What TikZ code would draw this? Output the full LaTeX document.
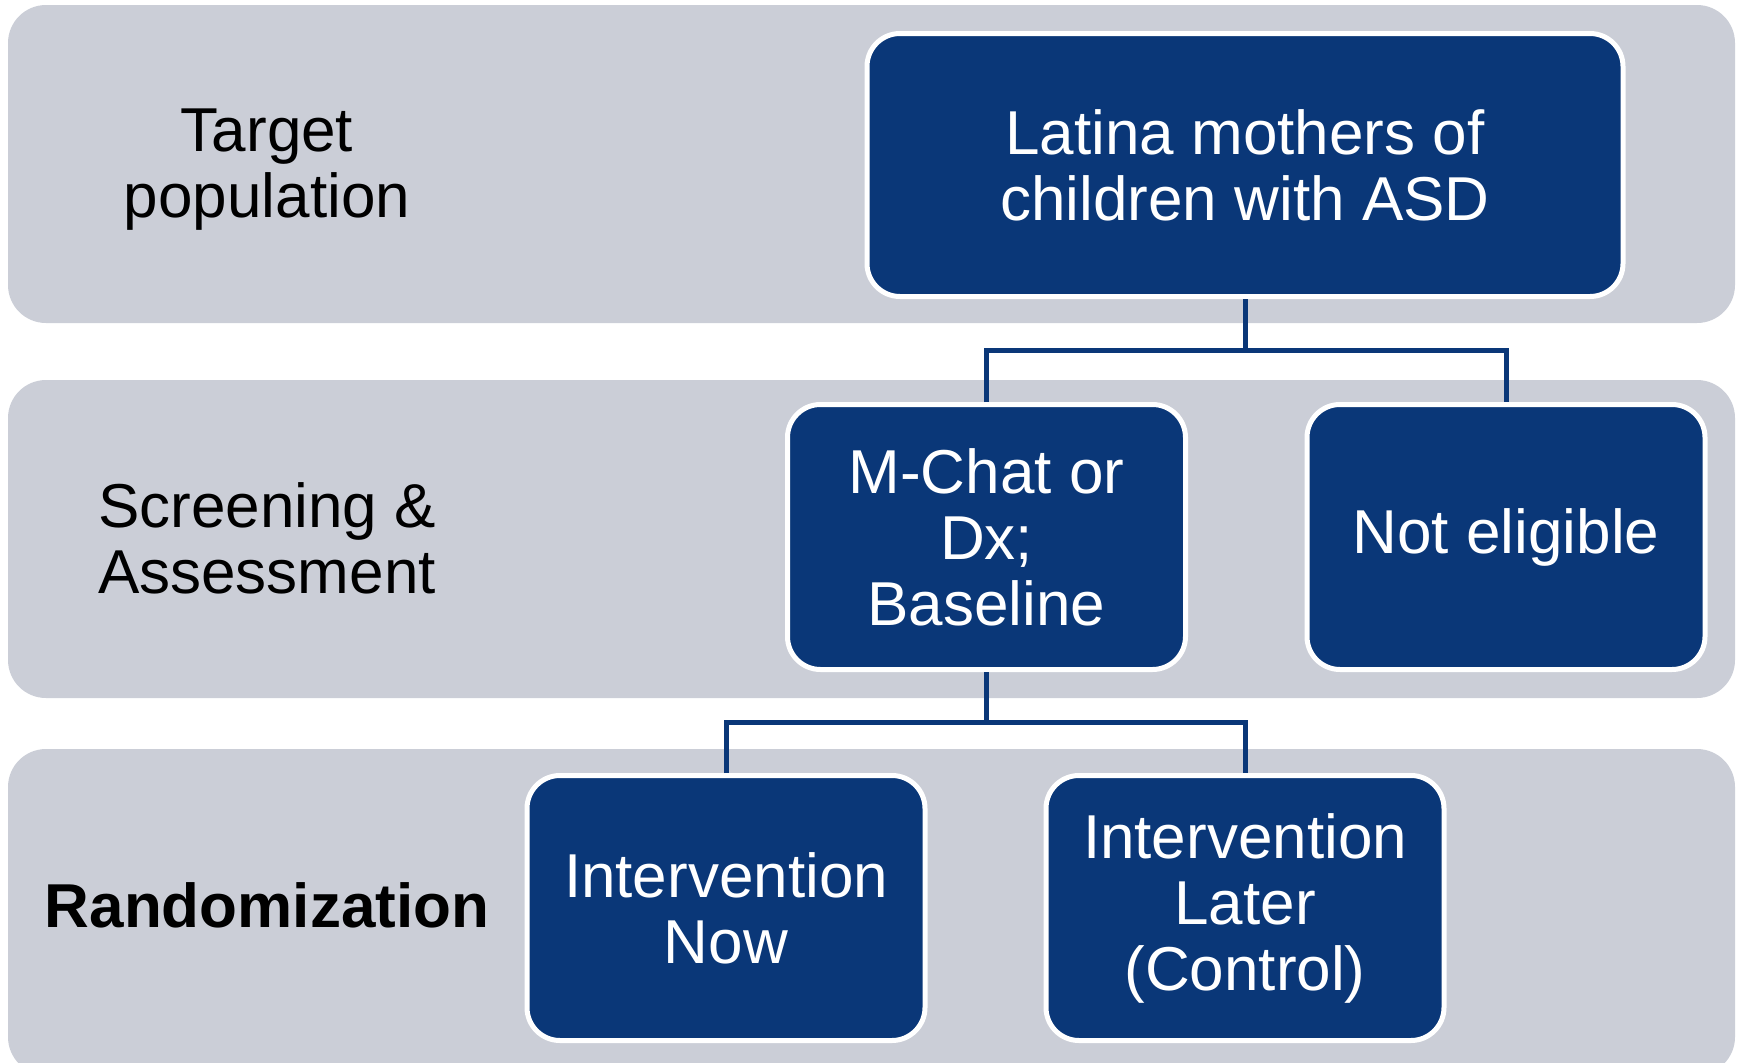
\documentclass[tikz,border=0pt]{standalone}
\usepackage{fontspec}
\setmainfont{Liberation Sans}
\definecolor{navy}{RGB}{10,55,120}
\definecolor{bandgray}{RGB}{203,206,215}
\tikzset{
  band/.style={fill=bandgray, draw=none, rounded corners=38pt, inner sep=0pt, minimum width=1727pt},
  stepbox/.style={fill=navy, draw=white, line width=5pt, rounded corners=33pt, text=white, align=center,
    inner sep=0pt, font=\fontsize{62}{66}\selectfont},
  lbl/.style={align=center, text=black, font=\fontsize{62}{66}\selectfont},
  conn/.style={draw=navy, line width=5pt}
}
\begin{document}
\begin{tikzpicture}[x=1pt,y=-1pt]
\clip (0,0) rectangle (1741,1063);
% bands
\node[band, minimum height=318pt] (band1) at (871.5,164) {};
\node[band, minimum height=318pt] (band2) at (871.5,539) {};
\node[band, minimum height=326pt] (band3) at (871.5,912) {};
% row labels
\node[lbl] (l1) at (267,170) {Target\\population};
\node[lbl] (l2) at (267,538) {Screening \&\\Assessment};
\node[lbl, font=\fontsize{62}{66}\selectfont\bfseries] (l3) at (267,905) {Randomization};
% boxes
\node[stepbox, minimum width=756pt, minimum height=263pt] (top) at (1245,165) {Latina mothers of\\children with ASD};
\node[stepbox, minimum width=398pt, minimum height=265pt] (mchat) at (986.5,537) {M-Chat or\\Dx;\\Baseline};
\node[stepbox, minimum width=398pt, minimum height=265pt] (noel) at (1506,537) {Not eligible};
\node[stepbox, minimum width=398pt, minimum height=265pt] (now) at (726,908) {Intervention\\Now};
\node[stepbox, minimum width=398pt, minimum height=265pt] (later) at (1245,908) {Intervention\\Later\\(Control)};
% junctions
\coordinate (j1) at (1245,350);
\coordinate (j2) at (986.5,722);
% connectors
\draw[conn] (top.south) -- (j1);
\draw[conn] (mchat.north) |- (j1) -| (noel.north);
\draw[conn] (mchat.south) -- (j2);
\draw[conn] (now.north) |- (j2) -| (later.north);
\end{tikzpicture}
\end{document}
